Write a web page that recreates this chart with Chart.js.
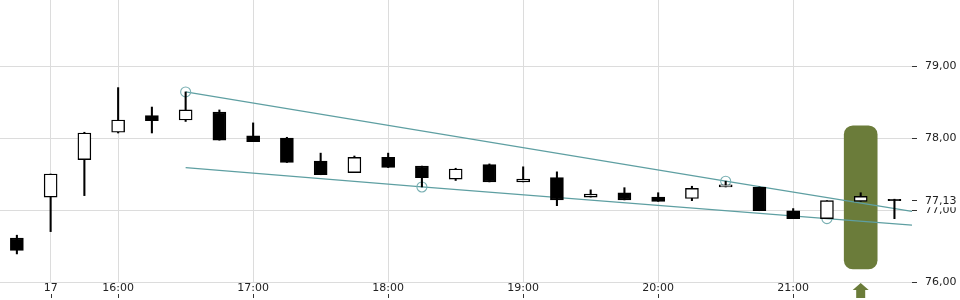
<!DOCTYPE html>
<html>
<head>
<meta charset="utf-8">
<title>15 min candles</title>
<script src="https://cdn.jsdelivr.net/npm/chart.js@4.4.1/dist/chart.umd.min.js"></script>
<style>
  html, body { margin: 0; padding: 0; background: #fff; }
  #wrap { width: 960px; height: 300px; position: relative; }
</style>
</head>
<body>
<div id="wrap"><canvas id="chart"></canvas></div>
<script>
'use strict';

/* 15-minute bars, index 0 = first bar on the left */
const barIndex = [0,1,2,3,4,5,6,7,8,9,10,11,12,13,14,15,16,17,18,19,20,21,22,23,24,25,26];
const opens  = [76.61,77.18,77.70,78.08,78.31,78.25,78.36,78.03,78.00,77.68,77.52,77.73,77.61,77.43,77.63,77.39,77.45,77.18,77.24,77.18,77.16,77.32,77.32,76.99,76.88,77.12,77.15];
const highs  = [76.65,77.50,78.08,78.70,78.43,78.64,78.39,78.21,78.01,77.79,77.75,77.79,77.61,77.58,77.64,77.60,77.53,77.28,77.31,77.24,77.33,77.40,77.32,77.02,77.13,77.24,77.15];
const lows   = [76.39,76.70,77.20,78.07,78.07,78.23,77.97,77.95,77.66,77.49,77.52,77.59,77.32,77.41,77.39,77.39,77.06,77.18,77.14,77.12,77.13,77.32,76.99,76.88,76.88,77.12,76.88];
const closes = [76.44,77.50,78.07,78.25,78.24,78.39,77.97,77.95,77.66,77.49,77.73,77.59,77.45,77.57,77.39,77.43,77.14,77.22,77.14,77.12,77.30,77.35,76.99,76.88,77.13,77.19,77.13];

const xTickIndex  = [1, 3, 7, 11, 15, 19, 23];
const xTickLabels = ['17', '16:00', '17:00', '18:00', '19:00', '20:00', '21:00'];
const yTickValues = [76, 77, 78, 79];

/* trend lines (circles mark the touch points) */
const upperTrendX   = [5, 21, 26.52];
const upperTrendY   = [78.64, 77.40, 76.98];
const upperTrendPts = [5, 5, 0];
const lowerTrendX   = [5, 12, 24, 26.52];
const lowerTrendY   = [77.59, 77.32, 76.88, 76.79];
const lowerTrendPts = [0, 5, 5, 0];

/* buy signal */
const signalIndex = [25];
const signalRange = [[76.18, 78.17]];

const lastClose = closes[closes.length - 1];
const OLIVE = '#6b7c3a';
const fmt = v => Number(v).toFixed(2).replace('.', ',');

Chart.defaults.font.family = "'DejaVu Sans', sans-serif";
Chart.defaults.font.size = 11;
Chart.defaults.color = '#222';

// no extra room for labels hanging over the plot edges
const noPad = s => { s.paddingTop = 0; s.paddingBottom = 0; s.paddingLeft = 0; s.paddingRight = 0; };

const tickMarksBelow = {
  id: 'tickMarksBelow',
  afterDraw(chart) {
    const { ctx, scales: { x } } = chart;
    ctx.save();
    ctx.strokeStyle = '#333';
    ctx.lineWidth = 1;
    x.ticks.forEach(t => {
      const px = Math.round(x.getPixelForValue(t.value)) + 0.5;
      ctx.beginPath();
      ctx.moveTo(px, 294);
      ctx.lineTo(px, 298);
      ctx.stroke();
    });
    ctx.restore();
  }
};

const signalArrow = {
  id: 'signalArrow',
  afterDraw(chart) {
    const { ctx, chartArea, scales: { x } } = chart;
    ctx.save();
    ctx.fillStyle = OLIVE;
    signalIndex.forEach(i => {
      const cx = x.getPixelForValue(i);
      const top = chartArea.bottom + 1;
      ctx.beginPath();
      ctx.moveTo(cx, top);
      ctx.lineTo(cx + 8, top + 7);
      ctx.lineTo(cx + 4.5, top + 7);
      ctx.lineTo(cx + 4.5, top + 15);
      ctx.lineTo(cx - 4.5, top + 15);
      ctx.lineTo(cx - 4.5, top + 7);
      ctx.lineTo(cx - 8, top + 7);
      ctx.closePath();
      ctx.fill();
    });
    ctx.restore();
  }
};

new Chart(document.getElementById('chart'), {
  type: 'bar',
  data: {
    datasets: [
      {
        type: 'bar', label: 'body', order: 0, grouped: false,
        data: barIndex.map((x, i) => ({ x, y: [opens[i], closes[i]] })),
        backgroundColor: barIndex.map(i => closes[i] >= opens[i] ? '#fff' : '#000'),
        borderColor: '#000', borderWidth: 1.4, borderSkipped: false, barThickness: 13
      },
      {
        type: 'bar', label: 'wick', order: 1, grouped: false,
        data: barIndex.map((x, i) => ({ x, y: [lows[i], highs[i]] })),
        backgroundColor: '#000', borderWidth: 0, barThickness: 1.4
      },
      {
        type: 'line', label: 'upper', order: 2,
        data: upperTrendX.map((x, i) => ({ x, y: upperTrendY[i] })),
        borderColor: '#5e9fa2', borderWidth: 1.2, tension: 0,
        pointRadius: upperTrendPts, pointBorderColor: '#78afb2',
        pointBackgroundColor: 'rgba(0,0,0,0)', pointBorderWidth: 1.1
      },
      {
        type: 'line', label: 'lower', order: 2,
        data: lowerTrendX.map((x, i) => ({ x, y: lowerTrendY[i] })),
        borderColor: '#5e9fa2', borderWidth: 1.2, tension: 0,
        pointRadius: lowerTrendPts, pointBorderColor: '#78afb2',
        pointBackgroundColor: 'rgba(0,0,0,0)', pointBorderWidth: 1.1
      },
      {
        type: 'bar', label: 'signal', order: 3, grouped: false,
        data: signalIndex.map((x, i) => ({ x, y: signalRange[i] })),
        backgroundColor: OLIVE, borderWidth: 0, borderSkipped: false,
        borderRadius: 9, barThickness: 33
      }
    ]
  },
  options: {
    responsive: true,
    maintainAspectRatio: false,
    animation: false,
    events: [],
    layout: { padding: 0, autoPadding: false },
    plugins: { legend: { display: false }, tooltip: { enabled: false } },
    scales: {
      x: {
        type: 'linear', min: -0.5, max: 26.52, offset: false,
        afterBuildTicks: s => { s.ticks = xTickIndex.map(v => ({ value: v })); },
        afterFit: s => { s.height = 18; noPad(s); },
        ticks: {
          autoSkip: false, maxRotation: 0, padding: 0,
          callback: v => xTickLabels[xTickIndex.indexOf(v)]
        },
        grid: { color: '#dcdcdc', drawTicks: false, offset: false },
        border: { display: false }
      },
      y: {
        position: 'right', min: 76, max: 79.917,
        afterBuildTicks: s => {
          s.ticks = yTickValues.concat([lastClose]).sort((a, b) => a - b).map(v => ({ value: v }));
        },
        afterFit: s => { s.width = 48; noPad(s); },
        ticks: {
          autoSkip: false, padding: 8,
          callback: v => fmt(v),
          showLabelBackdrop: ctx => !!ctx.tick && ctx.tick.value === lastClose,
          backdropColor: '#fff', backdropPadding: 0
        },
        grid: {
          color: ctx => (ctx.tick && ctx.tick.value === lastClose) ? 'rgba(0,0,0,0)' : '#dcdcdc',
          tickColor: '#333', tickLength: 5
        },
        border: { display: false }
      }
    }
  },
  plugins: [tickMarksBelow, signalArrow]
});
</script>
</body>
</html>
